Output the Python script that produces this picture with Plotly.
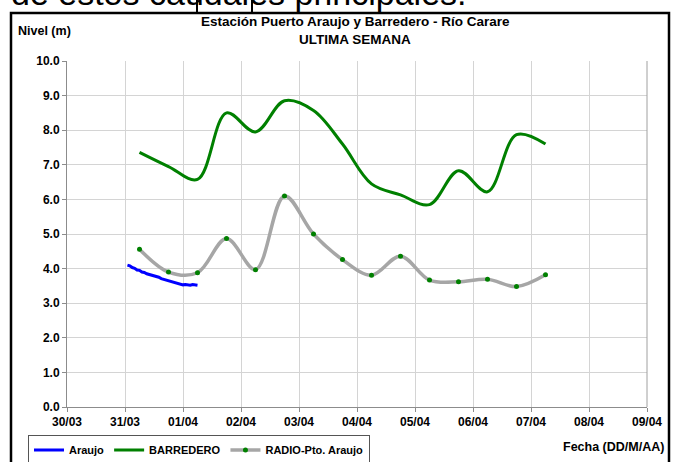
import plotly.graph_objects as go

# ---- data ----
radio_times = ["2012-03-31 06:00", "2012-03-31 18:00", "2012-04-01 06:00", "2012-04-01 18:00",
               "2012-04-02 06:00", "2012-04-02 18:00", "2012-04-03 06:00", "2012-04-03 18:00",
               "2012-04-04 06:00", "2012-04-04 18:00", "2012-04-05 06:00", "2012-04-05 18:00",
               "2012-04-06 06:00", "2012-04-06 18:00", "2012-04-07 06:00"]
barredero = [7.36, 6.95, 6.58, 8.50, 7.95, 8.85, 8.57, 7.60, 6.45, 6.13, 5.85, 6.83, 6.22, 7.87, 7.60]
radio = [4.56, 3.90, 3.88, 4.87, 3.97, 6.10, 5.00, 4.26, 3.81, 4.36, 3.67, 3.62, 3.69, 3.48, 3.82]

araujo_times = ["2012-03-31 01:00", "2012-03-31 02:00", "2012-03-31 03:00", "2012-03-31 04:00",
                "2012-03-31 05:00", "2012-03-31 06:00", "2012-03-31 07:00", "2012-03-31 08:00",
                "2012-03-31 09:00", "2012-03-31 10:00", "2012-03-31 11:00", "2012-03-31 12:00",
                "2012-03-31 13:00", "2012-03-31 14:00", "2012-03-31 15:00", "2012-03-31 16:00",
                "2012-03-31 17:00", "2012-03-31 18:00", "2012-03-31 19:00", "2012-03-31 20:00",
                "2012-03-31 21:00", "2012-03-31 22:00", "2012-03-31 23:00", "2012-04-01 00:00",
                "2012-04-01 01:00", "2012-04-01 02:00", "2012-04-01 03:00", "2012-04-01 04:00",
                "2012-04-01 05:00", "2012-04-01 06:00"]
araujo = [4.10, 4.08, 4.03, 4.01, 3.96, 3.95, 3.90, 3.89, 3.85, 3.83,
          3.81, 3.80, 3.76, 3.75, 3.71, 3.69, 3.67, 3.64, 3.63, 3.60,
          3.60, 3.57, 3.56, 3.53, 3.54, 3.52, 3.52, 3.54, 3.53, 3.52]

y_ticks = [0, 1, 2, 3, 4, 5, 6, 7, 8, 9, 10]
x_range = ["2012-03-30", "2012-04-09"]

title_line1 = "Estación Puerto Araujo y Barredero - Río Carare"
title_line2 = "ULTIMA SEMANA"
y_title = "Nivel (m)"
x_title = "Fecha (DD/M/AA)"
top_text = "de estos caudales principales."

# ---- figure ----
W, H = 683, 462
L, R, T, B = 67, 647, 61, 407  # plot area in pixels


def px(x):
    return (x - L) / (R - L)


def py(y):
    return (B - y) / (B - T)


FONT = "Liberation Sans, Arial, sans-serif"
FRAME_TOP = 13

fig = go.Figure()
fig.add_trace(go.Scatter(x=araujo_times, y=araujo, name="Araujo", mode="lines",
                         line=dict(color="#0000ff", width=3)))
fig.add_trace(go.Scatter(x=radio_times, y=barredero, name="BARREDERO", mode="lines",
                         line=dict(color="#008000", width=3, shape="spline", smoothing=1)))
fig.add_trace(go.Scatter(x=radio_times, y=radio, name="RADIO-Pto. Araujo", mode="lines+markers",
                         line=dict(color="#a6a6a6", width=3.5, shape="spline", smoothing=1),
                         marker=dict(color="#008000", size=5)))

fig.update_layout(
    width=W, height=H,
    margin=dict(l=L, r=W - R, t=T, b=H - B, pad=0, autoexpand=False),
    paper_bgcolor="white", plot_bgcolor="white",
    font=dict(family=FONT, size=12, color="black"),
    showlegend=True,
    legend=dict(orientation="h", xref="container", yref="container",
                x=28 / W, y=1 - 450 / H, xanchor="left", yanchor="middle",
                bordercolor="#555555", borderwidth=1, bgcolor="white",
                font=dict(family=FONT, size=11, color="black", weight="bold"),
                itemwidth=30, tracegroupgap=0),
    xaxis=dict(type="date", range=x_range, dtick=86400000, tickformat="%d/%m",
               showgrid=True, gridcolor="#d4d4d4", gridwidth=1,
               showline=True, linecolor="#8c8c8c", linewidth=1,
               ticks="outside", ticklen=4, tickcolor="#8c8c8c",
               tickfont=dict(family=FONT, size=12, color="black", weight="bold"),
               zeroline=False, fixedrange=True),
    yaxis=dict(range=[0, 10], tickvals=y_ticks, tickformat=".1f",
               showgrid=True, gridcolor="#d4d4d4", gridwidth=1,
               showline=True, linecolor="#8c8c8c", linewidth=1,
               ticks="outside", ticklen=4, tickcolor="#8c8c8c",
               tickfont=dict(family=FONT, size=12, color="black", weight="bold"),
               zeroline=False, fixedrange=True),
)

# outer frame
fig.add_shape(type="rect", xref="paper", yref="paper",
              x0=px(11), x1=px(669), y0=py(475), y1=py(FRAME_TOP),
              line=dict(color="black", width=2.5), fillcolor="rgba(0,0,0,0)", layer="below")
# right gray line of plot area
fig.add_shape(type="line", xref="paper", yref="paper", x0=1, x1=1, y0=0, y1=1,
              line=dict(color="#a0a0a0", width=1))
# cut-off text marks at the top
for xb in (197, 252):
    fig.add_shape(type="line", xref="paper", yref="paper", x0=px(xb), x1=px(xb),
                  y0=py(FRAME_TOP), y1=py(-5), line=dict(color="black", width=2))

for txt, yy in ((title_line1, 22), (title_line2, 39)):
    fig.add_annotation(text=f"<b>{txt}</b>", xref="paper", yref="paper", x=px(355), y=py(yy),
                       xanchor="center", yanchor="middle", showarrow=False,
                       font=dict(family=FONT, size=13.5, color="black"))
fig.add_annotation(text=f"<b>{y_title}</b>", xref="paper", yref="paper", x=px(16), y=py(31),
                   xanchor="left", yanchor="middle", showarrow=False,
                   font=dict(family=FONT, size=12.5, color="black"))
fig.add_annotation(text=f"<b>{x_title}</b>", xref="paper", yref="paper", x=px(666), y=py(447),
                   xanchor="right", yanchor="middle", showarrow=False,
                   font=dict(family=FONT, size=12.5, color="black"))
fig.add_annotation(text=top_text, xref="paper", yref="paper", x=px(9), y=py(14),
                   xanchor="left", yanchor="bottom", showarrow=False,
                   font=dict(family=FONT, size=34, color="black"))

fig.write_html("out.html", config={"displayModeBar": False},
               post_script="document.body.style.margin='0';")
